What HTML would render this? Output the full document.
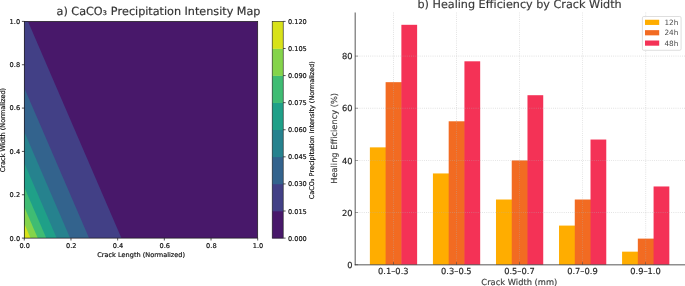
<!DOCTYPE html>
<html><head><meta charset="utf-8"><title>Charts</title>
<style>
html,body{margin:0;padding:0;background:#fff;}
svg{display:block;font-family:"DejaVu Sans","Liberation Sans",sans-serif;will-change:transform;text-rendering:geometricPrecision;font-variant-ligatures:none;font-kerning:none;}
</style></head>
<body>
<svg width="685" height="286" viewBox="0 0 685 286">
<rect width="685" height="286" fill="#fff"/>
<rect x="24.3" y="21.4" width="233.40" height="216.70" fill="#48186a"/>
<polygon points="24.30,238.10 121.37,238.10 28.01,21.40 24.30,21.40" fill="#424086"/>
<polygon points="24.30,238.10 89.01,238.10 24.30,87.90" fill="#33638d"/>
<polygon points="24.30,238.10 70.09,238.10 24.30,131.83" fill="#26828e"/>
<polygon points="24.30,238.10 56.66,238.10 24.30,163.00" fill="#1fa088"/>
<polygon points="24.30,238.10 46.24,238.10 24.30,187.18" fill="#3fbc73"/>
<polygon points="24.30,238.10 37.73,238.10 24.30,206.93" fill="#84d44b"/>
<polygon points="24.30,238.10 30.53,238.10 24.30,223.63" fill="#d8e219"/>
<rect x="24.3" y="21.4" width="233.40" height="216.70" fill="none" stroke="#1a1a1a" stroke-width="0.7"/>
<line x1="24.30" y1="238.1" x2="24.30" y2="240.5" stroke="#1a1a1a" stroke-width="0.75"/>
<line x1="24.3" y1="238.10" x2="21.900000000000002" y2="238.10" stroke="#1a1a1a" stroke-width="0.75"/>
<text x="24.65" y="247.60" font-size="6.6" text-anchor="middle" fill="#111" stroke="#111" stroke-width="0.18">0.0</text>
<text x="20.10" y="240.50" font-size="6.6" text-anchor="end" fill="#111" stroke="#111" stroke-width="0.18">0.0</text>
<line x1="70.98" y1="238.1" x2="70.98" y2="240.5" stroke="#1a1a1a" stroke-width="0.75"/>
<line x1="24.3" y1="194.76" x2="21.900000000000002" y2="194.76" stroke="#1a1a1a" stroke-width="0.75"/>
<text x="71.33" y="247.60" font-size="6.6" text-anchor="middle" fill="#111" stroke="#111" stroke-width="0.18">0.2</text>
<text x="20.10" y="197.16" font-size="6.6" text-anchor="end" fill="#111" stroke="#111" stroke-width="0.18">0.2</text>
<line x1="117.66" y1="238.1" x2="117.66" y2="240.5" stroke="#1a1a1a" stroke-width="0.75"/>
<line x1="24.3" y1="151.42" x2="21.900000000000002" y2="151.42" stroke="#1a1a1a" stroke-width="0.75"/>
<text x="118.01" y="247.60" font-size="6.6" text-anchor="middle" fill="#111" stroke="#111" stroke-width="0.18">0.4</text>
<text x="20.10" y="153.82" font-size="6.6" text-anchor="end" fill="#111" stroke="#111" stroke-width="0.18">0.4</text>
<line x1="164.34" y1="238.1" x2="164.34" y2="240.5" stroke="#1a1a1a" stroke-width="0.75"/>
<line x1="24.3" y1="108.08" x2="21.900000000000002" y2="108.08" stroke="#1a1a1a" stroke-width="0.75"/>
<text x="164.69" y="247.60" font-size="6.6" text-anchor="middle" fill="#111" stroke="#111" stroke-width="0.18">0.6</text>
<text x="20.10" y="110.48" font-size="6.6" text-anchor="end" fill="#111" stroke="#111" stroke-width="0.18">0.6</text>
<line x1="211.02" y1="238.1" x2="211.02" y2="240.5" stroke="#1a1a1a" stroke-width="0.75"/>
<line x1="24.3" y1="64.74" x2="21.900000000000002" y2="64.74" stroke="#1a1a1a" stroke-width="0.75"/>
<text x="211.37" y="247.60" font-size="6.6" text-anchor="middle" fill="#111" stroke="#111" stroke-width="0.18">0.8</text>
<text x="20.10" y="67.14" font-size="6.6" text-anchor="end" fill="#111" stroke="#111" stroke-width="0.18">0.8</text>
<line x1="257.70" y1="238.1" x2="257.70" y2="240.5" stroke="#1a1a1a" stroke-width="0.75"/>
<line x1="24.3" y1="21.40" x2="21.900000000000002" y2="21.40" stroke="#1a1a1a" stroke-width="0.75"/>
<text x="258.05" y="247.60" font-size="6.6" text-anchor="middle" fill="#111" stroke="#111" stroke-width="0.18">1.0</text>
<text x="20.10" y="23.80" font-size="6.6" text-anchor="end" fill="#111" stroke="#111" stroke-width="0.18">1.0</text>
<text x="141.1" y="256.7" font-size="6.55" text-anchor="middle" fill="#111" stroke="#111" stroke-width="0.18">Crack Length (Normalized)</text>
<text transform="translate(5.25,130.05) rotate(-90)" font-size="6.55" text-anchor="middle" fill="#111" stroke="#111" stroke-width="0.18">Crack Width (Normalized)</text>
<text x="158.5" y="14.7" font-size="11.2" text-anchor="middle" fill="#333" stroke="#333" stroke-width="0.18">a) CaCO₃ Precipitation Intensity Map</text>
<rect x="272.2" y="211.01" width="11.00" height="27.39" fill="#48186a"/>
<rect x="272.2" y="183.93" width="11.00" height="27.39" fill="#424086"/>
<rect x="272.2" y="156.84" width="11.00" height="27.39" fill="#33638d"/>
<rect x="272.2" y="129.75" width="11.00" height="27.39" fill="#26828e"/>
<rect x="272.2" y="102.66" width="11.00" height="27.39" fill="#1fa088"/>
<rect x="272.2" y="75.58" width="11.00" height="27.39" fill="#3fbc73"/>
<rect x="272.2" y="48.49" width="11.00" height="27.39" fill="#84d44b"/>
<rect x="272.2" y="21.40" width="11.00" height="27.39" fill="#d8e219"/>
<rect x="272.2" y="21.4" width="11.00" height="216.70" fill="none" stroke="#1a1a1a" stroke-width="0.6"/>
<line x1="283.2" y1="238.10" x2="285.59999999999997" y2="238.10" stroke="#1a1a1a" stroke-width="0.75"/>
<text x="287.9" y="240.60" font-size="6.6" fill="#111" stroke="#111" stroke-width="0.18">0.000</text>
<line x1="283.2" y1="211.01" x2="285.59999999999997" y2="211.01" stroke="#1a1a1a" stroke-width="0.75"/>
<text x="287.9" y="213.51" font-size="6.6" fill="#111" stroke="#111" stroke-width="0.18">0.015</text>
<line x1="283.2" y1="183.93" x2="285.59999999999997" y2="183.93" stroke="#1a1a1a" stroke-width="0.75"/>
<text x="287.9" y="186.43" font-size="6.6" fill="#111" stroke="#111" stroke-width="0.18">0.030</text>
<line x1="283.2" y1="156.84" x2="285.59999999999997" y2="156.84" stroke="#1a1a1a" stroke-width="0.75"/>
<text x="287.9" y="159.34" font-size="6.6" fill="#111" stroke="#111" stroke-width="0.18">0.045</text>
<line x1="283.2" y1="129.75" x2="285.59999999999997" y2="129.75" stroke="#1a1a1a" stroke-width="0.75"/>
<text x="287.9" y="132.25" font-size="6.6" fill="#111" stroke="#111" stroke-width="0.18">0.060</text>
<line x1="283.2" y1="102.66" x2="285.59999999999997" y2="102.66" stroke="#1a1a1a" stroke-width="0.75"/>
<text x="287.9" y="105.16" font-size="6.6" fill="#111" stroke="#111" stroke-width="0.18">0.075</text>
<line x1="283.2" y1="75.58" x2="285.59999999999997" y2="75.58" stroke="#1a1a1a" stroke-width="0.75"/>
<text x="287.9" y="78.08" font-size="6.6" fill="#111" stroke="#111" stroke-width="0.18">0.090</text>
<line x1="283.2" y1="48.49" x2="285.59999999999997" y2="48.49" stroke="#1a1a1a" stroke-width="0.75"/>
<text x="287.9" y="50.99" font-size="6.6" fill="#111" stroke="#111" stroke-width="0.18">0.105</text>
<line x1="283.2" y1="21.40" x2="285.59999999999997" y2="21.40" stroke="#1a1a1a" stroke-width="0.75"/>
<text x="287.9" y="23.90" font-size="6.6" fill="#111" stroke="#111" stroke-width="0.18">0.120</text>
<text transform="translate(313.6,130.2) rotate(-90)" font-size="6.5" text-anchor="middle" fill="#111" stroke="#111" stroke-width="0.18">CaCO₃ Precipitation Intensity (Normalized)</text>
<rect x="369.88" y="147.36" width="16.25" height="117.34" fill="#FFAD00"/>
<rect x="432.93" y="173.44" width="16.25" height="91.26" fill="#FFAD00"/>
<rect x="495.98" y="199.51" width="16.25" height="65.19" fill="#FFAD00"/>
<rect x="559.02" y="225.59" width="16.25" height="39.11" fill="#FFAD00"/>
<rect x="622.08" y="251.66" width="16.25" height="13.04" fill="#FFAD00"/>
<rect x="385.62" y="82.17" width="16.25" height="182.53" fill="#F26B22"/>
<rect x="448.68" y="121.29" width="16.25" height="143.41" fill="#F26B22"/>
<rect x="511.73" y="160.40" width="16.25" height="104.30" fill="#F26B22"/>
<rect x="574.77" y="199.51" width="16.25" height="65.19" fill="#F26B22"/>
<rect x="637.83" y="238.62" width="16.25" height="26.07" fill="#F26B22"/>
<rect x="401.38" y="24.81" width="15.75" height="239.89" fill="#F43256"/>
<rect x="464.43" y="61.31" width="15.75" height="203.38" fill="#F43256"/>
<rect x="527.48" y="95.21" width="15.75" height="169.49" fill="#F43256"/>
<rect x="590.52" y="139.54" width="15.75" height="125.16" fill="#F43256"/>
<rect x="653.58" y="186.47" width="15.75" height="78.22" fill="#F43256"/>
<line x1="355.25" y1="212.55" x2="685" y2="212.55" stroke="#b0b0b0" stroke-width="0.65" stroke-dasharray="0.8 1.35" opacity="0.7"/>
<line x1="355.25" y1="160.40" x2="685" y2="160.40" stroke="#b0b0b0" stroke-width="0.65" stroke-dasharray="0.8 1.35" opacity="0.7"/>
<line x1="355.25" y1="108.25" x2="685" y2="108.25" stroke="#b0b0b0" stroke-width="0.65" stroke-dasharray="0.8 1.35" opacity="0.7"/>
<line x1="355.25" y1="56.10" x2="685" y2="56.10" stroke="#b0b0b0" stroke-width="0.65" stroke-dasharray="0.8 1.35" opacity="0.7"/>
<line x1="393.50" y1="12.6" x2="393.50" y2="264.7" stroke="#b0b0b0" stroke-width="0.65" stroke-dasharray="0.8 1.35" opacity="0.7"/>
<line x1="456.55" y1="12.6" x2="456.55" y2="264.7" stroke="#b0b0b0" stroke-width="0.65" stroke-dasharray="0.8 1.35" opacity="0.7"/>
<line x1="519.60" y1="12.6" x2="519.60" y2="264.7" stroke="#b0b0b0" stroke-width="0.65" stroke-dasharray="0.8 1.35" opacity="0.7"/>
<line x1="582.65" y1="12.6" x2="582.65" y2="264.7" stroke="#b0b0b0" stroke-width="0.65" stroke-dasharray="0.8 1.35" opacity="0.7"/>
<line x1="645.70" y1="12.6" x2="645.70" y2="264.7" stroke="#b0b0b0" stroke-width="0.65" stroke-dasharray="0.8 1.35" opacity="0.7"/>
<line x1="355.25" y1="12.6" x2="355.25" y2="265.2" stroke="#333" stroke-width="1.5" opacity="0.55"/>
<line x1="354.75" y1="264.7" x2="685" y2="264.7" stroke="#333" stroke-width="1.5" opacity="0.55"/>
<line x1="355.25" y1="264.70" x2="358.05" y2="264.70" stroke="#333" stroke-width="0.6" opacity="0.8"/>
<line x1="355.25" y1="212.55" x2="358.05" y2="212.55" stroke="#333" stroke-width="0.6" opacity="0.8"/>
<line x1="355.25" y1="160.40" x2="358.05" y2="160.40" stroke="#333" stroke-width="0.6" opacity="0.8"/>
<line x1="355.25" y1="108.25" x2="358.05" y2="108.25" stroke="#333" stroke-width="0.6" opacity="0.8"/>
<line x1="355.25" y1="56.10" x2="358.05" y2="56.10" stroke="#333" stroke-width="0.6" opacity="0.8"/>
<line x1="393.50" y1="264.7" x2="393.50" y2="261.9" stroke="#333" stroke-width="0.6" opacity="0.8"/>
<line x1="456.55" y1="264.7" x2="456.55" y2="261.9" stroke="#333" stroke-width="0.6" opacity="0.8"/>
<line x1="519.60" y1="264.7" x2="519.60" y2="261.9" stroke="#333" stroke-width="0.6" opacity="0.8"/>
<line x1="582.65" y1="264.7" x2="582.65" y2="261.9" stroke="#333" stroke-width="0.6" opacity="0.8"/>
<line x1="645.70" y1="264.7" x2="645.70" y2="261.9" stroke="#333" stroke-width="0.6" opacity="0.8"/>
<text x="352.5" y="267.90" font-size="8.3" text-anchor="end" fill="#262626" stroke="#262626" stroke-width="0.18">0</text>
<text x="352.5" y="215.75" font-size="8.3" text-anchor="end" fill="#262626" stroke="#262626" stroke-width="0.18">20</text>
<text x="352.5" y="163.60" font-size="8.3" text-anchor="end" fill="#262626" stroke="#262626" stroke-width="0.18">40</text>
<text x="352.5" y="111.45" font-size="8.3" text-anchor="end" fill="#262626" stroke="#262626" stroke-width="0.18">60</text>
<text x="352.5" y="59.30" font-size="8.3" text-anchor="end" fill="#262626" stroke="#262626" stroke-width="0.18">80</text>
<text x="393.30" y="274.0" font-size="8.3" text-anchor="middle" fill="#262626" stroke="#262626" stroke-width="0.18">0.1–0.3</text>
<text x="456.35" y="274.0" font-size="8.3" text-anchor="middle" fill="#262626" stroke="#262626" stroke-width="0.18">0.3–0.5</text>
<text x="519.40" y="274.0" font-size="8.3" text-anchor="middle" fill="#262626" stroke="#262626" stroke-width="0.18">0.5–0.7</text>
<text x="582.45" y="274.0" font-size="8.3" text-anchor="middle" fill="#262626" stroke="#262626" stroke-width="0.18">0.7–0.9</text>
<text x="645.50" y="274.0" font-size="8.3" text-anchor="middle" fill="#262626" stroke="#262626" stroke-width="0.18">0.9–1.0</text>
<text x="519.3" y="284.5" font-size="8.3" text-anchor="middle" fill="#444" stroke="#444" stroke-width="0.18">Crack Width (mm)</text>
<text transform="translate(337.1,138.4) rotate(-90)" font-size="8.25" text-anchor="middle" fill="#444" stroke="#444" stroke-width="0.18">Healing Efficiency (%)</text>
<text x="519.6" y="8.45" font-size="11.2" text-anchor="middle" fill="#3a3a3a" stroke="#3a3a3a" stroke-width="0.18">b) Healing Efficiency by Crack Width</text>
<rect x="642.4" y="16.5" width="38.7" height="33.8" rx="1.4" fill="#fff" fill-opacity="0.8" stroke="#d0d0d0" stroke-width="0.7"/>
<rect x="645.0" y="19.75" width="14.2" height="5.2" fill="#FFAD00"/>
<text x="664.4" y="25.05" font-size="7.3" fill="#4a4a4a">12h</text>
<rect x="645.0" y="30.15" width="14.2" height="5.2" fill="#F26B22"/>
<text x="664.4" y="35.45" font-size="7.3" fill="#4a4a4a">24h</text>
<rect x="645.0" y="40.50" width="14.2" height="5.2" fill="#F43256"/>
<text x="664.4" y="45.80" font-size="7.3" fill="#4a4a4a">48h</text>
</svg>
</body></html>
